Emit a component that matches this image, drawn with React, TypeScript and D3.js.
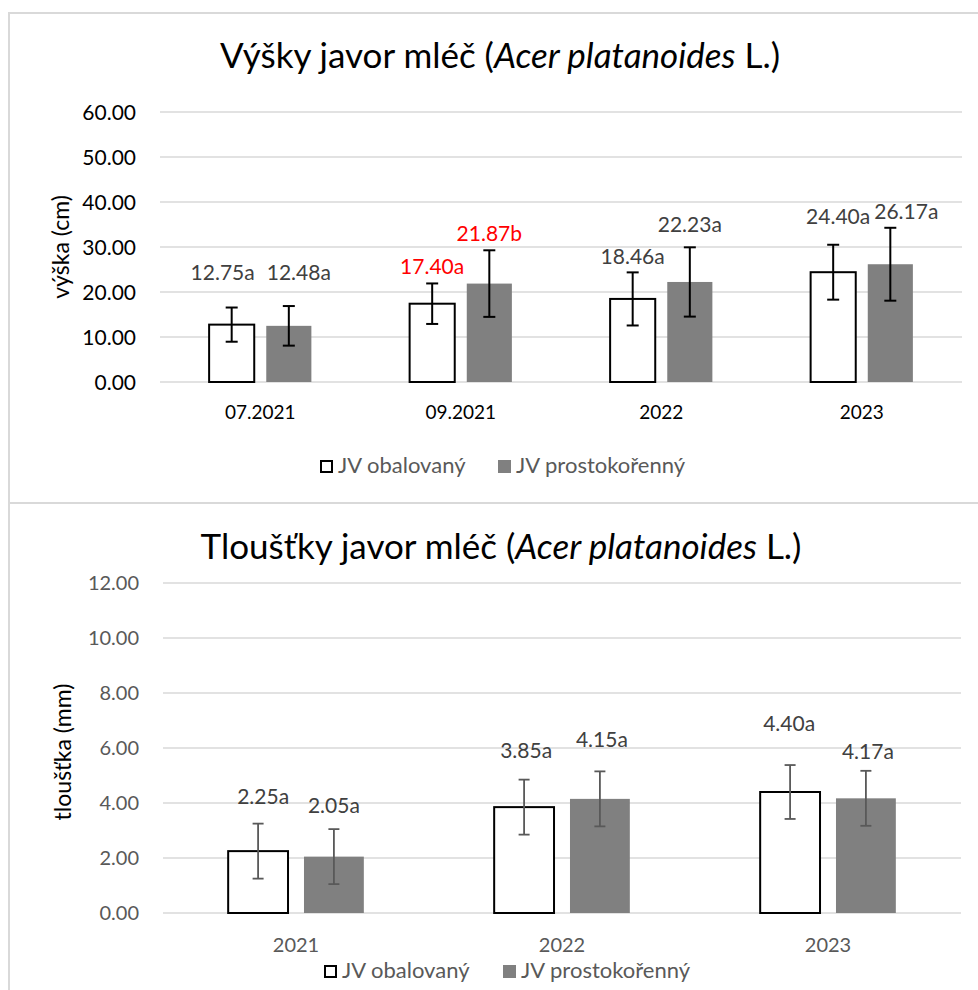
import React from 'react';
import * as d3 from 'd3';

// top chart: heights
const heightCats = ['07.2021', '09.2021', '2022', '2023'];
const heightObal = [12.75, 17.4, 18.46, 24.4];
const heightProsto = [12.48, 21.87, 22.23, 26.17];
const heightObalErr = [3.8, 4.5, 5.9, 6.1];
const heightProstoErr = [4.4, 7.4, 7.7, 8.1];
const heightObalLetters = ['a', 'a', 'a', 'a'];
const heightProstoLetters = ['a', 'b', 'a', 'a'];
const heightObalRed = [false, true, false, false];
const heightProstoRed = [false, true, false, false];
const heightTicks = [0, 10, 20, 30, 40, 50, 60];

// bottom chart: thickness
const thickCats = ['2021', '2022', '2023'];
const thickObal = [2.25, 3.85, 4.4];
const thickProsto = [2.05, 4.15, 4.17];
const thickObalErr = [1.0, 1.0, 0.98];
const thickProstoErr = [1.0, 1.0, 1.0];
const thickObalLetters = ['a', 'a', 'a'];
const thickProstoLetters = ['a', 'a', 'a'];
const thickTicks = [0, 2, 4, 6, 8, 10, 12];

const seriesNames = ['JV obalovaný', 'JV prostokořenný'];

// manual label nudges (dx, dy from bar top)
const heightObalLbl = [[-9, -45], [0, -30], [0, -35], [5, -48]];
const heightProstoLbl = [[10, -46], [0, -43], [0, -50], [16, -45]];
const thickObalLbl = [[5, -47], [2, -49], [-1, -61]];
const thickProstoLbl = [[0, -44], [2, -52], [2, -39]];

const FONT = 'Lato, Carlito, Calibri, sans-serif';
const GRID = '#d9d9d9';

interface PanelProps {
  cats: string[];
  obal: number[];
  prosto: number[];
  obalErr: number[];
  prostoErr: number[];
  obalLetters: string[];
  prostoLetters: string[];
  obalRed?: boolean[];
  prostoRed?: boolean[];
  obalLbl: number[][];
  prostoLbl: number[][];
  ticks: number[];
  yMax: number;
  xRange: [number, number];
  yRange: [number, number];
  title: string;
  titleX: number;
  titleY: number;
  yTitle: string;
  yTitleX: number;
  yTitleY: number;
  tickRight: number;
  tickColor: string;
  xLabelY: number;
  xLabelSize: number;
  tickSize: number;
  errColor: string;
  errWidth: number;
  capW: number;
  legendX: number;
  legendY: number;
  legendGap: number;
}

const Panel: React.FC<PanelProps> = (p) => {
  const x = d3.scaleBand<string>().domain(p.cats).range(p.xRange).padding(0);
  const y = d3.scaleLinear().domain([0, p.yMax]).range(p.yRange);
  const bw = x.bandwidth() * 0.225;
  const off = x.bandwidth() * 0.1425;
  const cx = (c: string) => (x(c) || 0) + x.bandwidth() / 2;

  const series = [
    { vals: p.obal, err: p.obalErr, letters: p.obalLetters, red: p.obalRed, lbl: p.obalLbl, dir: -1, fill: '#ffffff', stroke: '#000000' },
    { vals: p.prosto, err: p.prostoErr, letters: p.prostoLetters, red: p.prostoRed, lbl: p.prostoLbl, dir: 1, fill: '#808080', stroke: 'none' },
  ];

  return (
    <g fontFamily={FONT}>
      <text x={p.titleX} y={p.titleY} textAnchor="middle" fontSize={35} fill="#000">
        {p.title}<tspan fontStyle="italic">Acer platanoides</tspan> L.)
      </text>
      {p.ticks.map((t) => (
        <g key={t}>
          <line x1={p.xRange[0]} x2={p.xRange[1]} y1={y(t)} y2={y(t)} stroke={GRID} strokeWidth={1.5} />
          <text x={p.tickRight} y={y(t)} dy="0.36em" textAnchor="end" fontSize={p.tickSize} fill={p.tickColor}>
            {t.toFixed(2)}
          </text>
        </g>
      ))}
      <text
        transform={`translate(${p.yTitleX},${p.yTitleY}) rotate(-90)`}
        textAnchor="middle"
        fontSize={23}
        fill="#000"
      >
        {p.yTitle}
      </text>
      {p.cats.map((c) => (
        <text key={c} x={cx(c)} y={p.xLabelY} textAnchor="middle" fontSize={p.xLabelSize} fill={p.tickColor}>
          {c}
        </text>
      ))}
      {series.map((s, si) =>
        p.cats.map((c, i) => {
          const bx = cx(c) + s.dir * off;
          const v = s.vals[i];
          const e = s.err[i];
          return (
            <g key={`${si}-${c}`}>
              <rect
                x={bx - bw / 2}
                y={y(v)}
                width={bw}
                height={y(0) - y(v)}
                fill={s.fill}
                stroke={s.stroke}
                strokeWidth={2}
              />
              <g stroke={p.errColor} strokeWidth={p.errWidth}>
                <line x1={bx} x2={bx} y1={y(v + e)} y2={y(v - e)} />
                <line x1={bx - p.capW / 2} x2={bx + p.capW / 2} y1={y(v + e)} y2={y(v + e)} />
                <line x1={bx - p.capW / 2} x2={bx + p.capW / 2} y1={y(v - e)} y2={y(v - e)} />
              </g>
              <text
                x={bx + s.lbl[i][0]}
                y={y(v) + s.lbl[i][1]}
                textAnchor="middle"
                fontSize={21}
                fill={s.red && s.red[i] ? '#ff0000' : '#404040'}
              >
                {v.toFixed(2)}
                {s.letters[i]}
              </text>
            </g>
          );
        })
      )}
      <g fontSize={22} fill="#595959">
        <rect x={p.legendX + 1} y={p.legendY - 12} width={11} height={11} fill="#fff" stroke="#000" strokeWidth={2} />
        <text x={p.legendX + 18} y={p.legendY}>
          {seriesNames[0]}
        </text>
        <rect x={p.legendX + p.legendGap} y={p.legendY - 13} width={13} height={13} fill="#808080" />
        <text x={p.legendX + p.legendGap + 18} y={p.legendY}>
          {seriesNames[1]}
        </text>
      </g>
    </g>
  );
};

const App: React.FC = () => {
  return (
    <svg width={978} height={990} style={{ position: 'absolute', left: 0, top: 0, background: '#fff' }}>
      <rect x={0} y={0} width={978} height={990} fill="#fff" />
      <rect x={9} y={13} width={985} height={490} fill="#fff" stroke={GRID} strokeWidth={2} />
      <rect x={9} y={503} width={985} height={500} fill="#fff" stroke={GRID} strokeWidth={2} />
      <Panel
        cats={heightCats}
        obal={heightObal}
        prosto={heightProsto}
        obalErr={heightObalErr}
        prostoErr={heightProstoErr}
        obalLetters={heightObalLetters}
        prostoLetters={heightProstoLetters}
        obalRed={heightObalRed}
        prostoRed={heightProstoRed}
        obalLbl={heightObalLbl}
        prostoLbl={heightProstoLbl}
        ticks={heightTicks}
        yMax={60}
        xRange={[160, 962]}
        yRange={[382, 112]}
        title="Výšky javor mléč ("
        titleX={500}
        titleY={68}
        yTitle="výška (cm)"
        yTitleX={69}
        yTitleY={247}
        tickRight={136}
        tickColor="#000"
        xLabelY={419}
        xLabelSize={19}
        tickSize={21}
        errColor="#000"
        errWidth={2}
        capW={12}
        legendX={320}
        legendY={473}
        legendGap={178}
      />
      <Panel
        cats={thickCats}
        obal={thickObal}
        prosto={thickProsto}
        obalErr={thickObalErr}
        prostoErr={thickProstoErr}
        obalLetters={thickObalLetters}
        prostoLetters={thickProstoLetters}
        obalLbl={thickObalLbl}
        prostoLbl={thickProstoLbl}
        ticks={thickTicks}
        yMax={12}
        xRange={[163, 961]}
        yRange={[913, 583]}
        title="Tloušťky javor mléč ("
        titleX={501}
        titleY={559}
        yTitle="tloušťka (mm)"
        yTitleX={71}
        yTitleY={752}
        tickRight={139}
        tickColor="#595959"
        xLabelY={952}
        xLabelSize={20}
        tickSize={20}
        errColor="#595959"
        errWidth={1.8}
        capW={11}
        legendX={324}
        legendY={978}
        legendGap={179}
      />
    </svg>
  );
};

export default App;
